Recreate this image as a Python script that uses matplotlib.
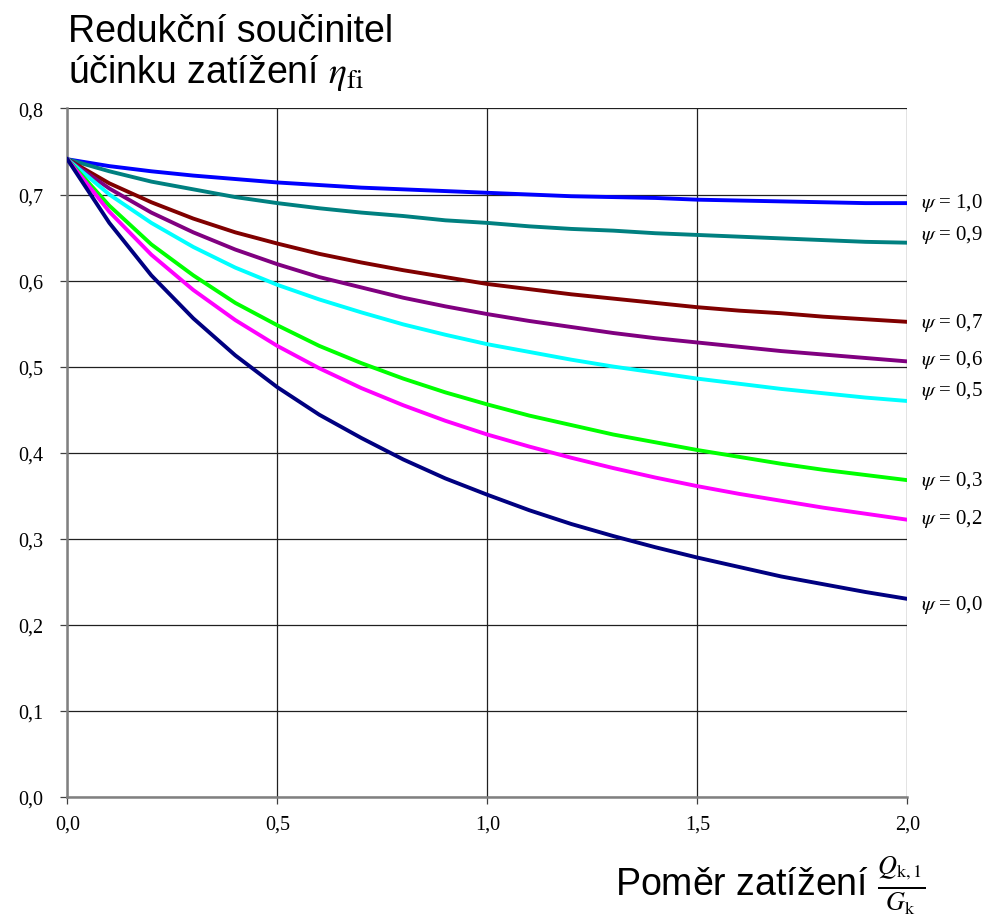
import matplotlib
matplotlib.use("Agg")
import matplotlib.pyplot as plt
from matplotlib.ticker import FuncFormatter, MultipleLocator

plt.rcParams["mathtext.fontset"] = "stix"
plt.rcParams["font.family"] = ["Liberation Serif", "DejaVu Serif"]

# Load ratio Q_k,1 / G_k
xi = [0.0, 0.1, 0.2, 0.3, 0.4, 0.5, 0.6, 0.7, 0.8, 0.9, 1.0,
      1.1, 1.2, 1.3, 1.4, 1.5, 1.6, 1.7, 1.8, 1.9, 2.0]

# Reduction factor eta_fi for each combination factor psi
eta_psi_10 = [0.741, 0.733, 0.727, 0.722, 0.718, 0.714, 0.711, 0.708, 0.706, 0.704, 0.702,
              0.700, 0.698, 0.697, 0.696, 0.694, 0.693, 0.692, 0.691, 0.690, 0.690]
eta_psi_09 = [0.741, 0.727, 0.715, 0.706, 0.697, 0.690, 0.684, 0.679, 0.675, 0.670, 0.667,
              0.663, 0.660, 0.658, 0.655, 0.653, 0.651, 0.649, 0.647, 0.645, 0.644]
eta_psi_07 = [0.741, 0.713, 0.691, 0.672, 0.656, 0.643, 0.631, 0.621, 0.612, 0.604, 0.596,
              0.590, 0.584, 0.579, 0.574, 0.569, 0.565, 0.562, 0.558, 0.555, 0.552]
eta_psi_06 = [0.741, 0.707, 0.679, 0.656, 0.636, 0.619, 0.604, 0.592, 0.580, 0.570, 0.561,
              0.553, 0.546, 0.539, 0.533, 0.528, 0.523, 0.518, 0.514, 0.510, 0.506]
eta_psi_05 = [0.741, 0.700, 0.667, 0.639, 0.615, 0.595, 0.578, 0.563, 0.549, 0.537, 0.526,
              0.517, 0.508, 0.500, 0.493, 0.486, 0.480, 0.474, 0.469, 0.464, 0.460]
eta_psi_03 = [0.741, 0.687, 0.642, 0.606, 0.574, 0.548, 0.524, 0.504, 0.486, 0.470, 0.456,
              0.443, 0.432, 0.421, 0.412, 0.403, 0.395, 0.387, 0.380, 0.374, 0.368]
eta_psi_02 = [0.741, 0.680, 0.630, 0.589, 0.554, 0.524, 0.498, 0.475, 0.455, 0.437, 0.421,
              0.407, 0.394, 0.382, 0.371, 0.361, 0.352, 0.344, 0.336, 0.329, 0.322]
eta_psi_00 = [0.741, 0.667, 0.606, 0.556, 0.513, 0.476, 0.444, 0.417, 0.392, 0.370, 0.351,
              0.333, 0.317, 0.303, 0.290, 0.278, 0.267, 0.256, 0.247, 0.238, 0.230]

series_labels = ["1,0", "0,9", "0,7", "0,6", "0,5", "0,3", "0,2", "0,0"]
series_values = [eta_psi_10, eta_psi_09, eta_psi_07, eta_psi_06,
                 eta_psi_05, eta_psi_03, eta_psi_02, eta_psi_00]
series_colors = ["#0000FF", "#008080", "#800000", "#800080",
                 "#00FFFF", "#00FF00", "#FF00FF", "#000080"]
# vertical nudge (points) of the end labels relative to the line end
label_nudge = [1, 6, 0, 2, 8, 0, 1, -4]

fig = plt.figure(figsize=(10.02, 9.2), dpi=100)
ax = fig.add_axes([0.0672, 0.1329, 0.8383, 0.7481])

for vals, col in zip(series_values, series_colors):
    ax.plot(xi, vals, color=col, lw=2.8, solid_joinstyle="round", zorder=3)

ax.set_xlim(0, 2.0)
ax.set_ylim(0, 0.8)
ax.xaxis.set_major_locator(MultipleLocator(0.5))
ax.yaxis.set_major_locator(MultipleLocator(0.1))
comma = FuncFormatter(lambda v, p: f"{v:.1f}".replace(".", ","))
ax.xaxis.set_major_formatter(comma)
ax.yaxis.set_major_formatter(comma)

ax.grid(True, color="#202020", lw=0.9, zorder=1)
for s in ("top", "right"):
    ax.spines[s].set_visible(False)
for s in ("left", "bottom"):
    ax.spines[s].set_color("#808080")
    ax.spines[s].set_linewidth(1.8)

ax.tick_params(axis="both", direction="out", length=5, width=0.9, color="#404040",
               labelsize=14.5, labelcolor="black")
ax.tick_params(axis="y", pad=12)
ax.tick_params(axis="x", pad=8)

for name, vals, dy in zip(series_labels, series_values, label_nudge):
    ax.annotate(r"$\psi$ = " + name, xy=(2.0, vals[-1]), xytext=(10, dy),
                textcoords="offset points", ha="left", va="center",
                fontsize=15, annotation_clip=False)

# Titles in pixel coordinates of the figure
W, H = 1002, 920
fig.text(68 / W, 1 - 42 / H, "Redukční součinitel", family="Liberation Sans",
         fontsize=27, ha="left", va="baseline")
fig.text(68 / W, 1 - 83 / H, r"účinku zatížení $\eta_{\mathrm{fi}}$",
         family="Liberation Sans", fontsize=27, ha="left", va="baseline")
fig.text(925 / W, 1 - 897 / H,
         r"Poměr zatížení $\frac{Q_{\mathrm{k,1}}}{G_{\mathrm{k}}}$",
         family="Liberation Sans", fontsize=27, ha="right", va="baseline")

fig.savefig("out.png", dpi=100)
